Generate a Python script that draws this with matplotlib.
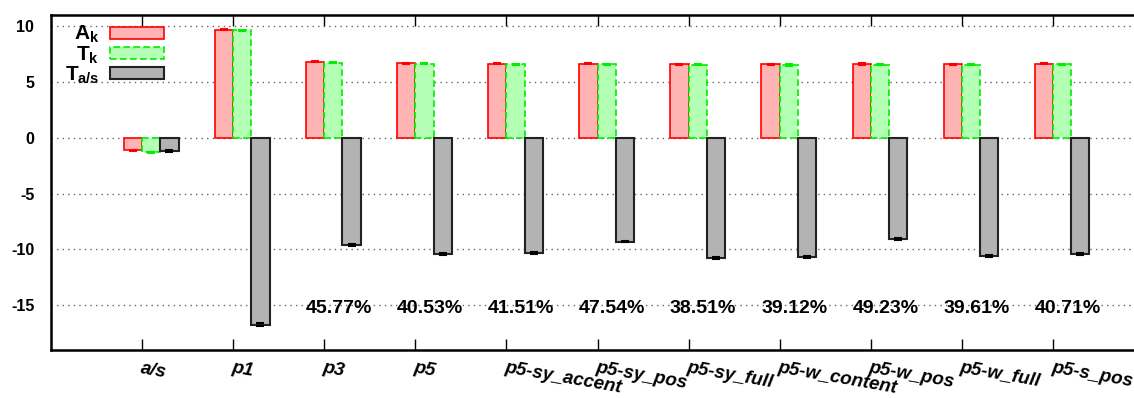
import matplotlib
matplotlib.use('Agg')
import matplotlib.pyplot as plt
import numpy as np

# values
labels = ['a/s', 'p1', 'p3', 'p5', 'p5-sy_accent', 'p5-sy_pos', 'p5-sy_full',
          'p5-w_content', 'p5-w_pos', 'p5-w_full', 'p5-s_pos']
a_k = [-1.15, 9.67, 6.80, 6.67, 6.62, 6.62, 6.58, 6.56, 6.60, 6.58, 6.60]
t_k = [-1.30, 9.60, 6.70, 6.60, 6.56, 6.56, 6.52, 6.50, 6.54, 6.52, 6.56]
t_as = [-1.20, -16.72, -9.60, -10.44, -10.30, -9.30, -10.80, -10.68, -9.07, -10.58, -10.40]
a_err = [0.05, 0.06, 0.05, 0.05, 0.05, 0.05, 0.05, 0.05, 0.06, 0.05, 0.05]
t_err = [0.05, 0.05, 0.05, 0.05, 0.05, 0.05, 0.05, 0.05, 0.06, 0.05, 0.05]
as_err = [0.05, 0.10, 0.08, 0.08, 0.08, 0.07, 0.08, 0.08, 0.07, 0.08, 0.08]
pct_start = 2
pct = ['45.77%', '40.53%', '41.51%', '47.54%', '38.51%', '39.12%', '49.23%',
       '39.61%', '40.71%']

plt.rcParams['font.family'] = 'Liberation Sans'
plt.rcParams['font.weight'] = 'bold'
plt.rcParams['axes.unicode_minus'] = False
plt.rcParams['mathtext.fontset'] = 'custom'
plt.rcParams['mathtext.rm'] = 'Liberation Sans:bold'
plt.rcParams['mathtext.it'] = 'Liberation Sans:bold'
plt.rcParams['mathtext.bf'] = 'Liberation Sans:bold'

fig = plt.figure(figsize=(11.34, 3.98), dpi=100)
ax = fig.add_axes([51 / 1134, 48 / 398, 1093 / 1134, 335.3 / 398])

x = np.arange(len(labels))
w = 0.2
ax.bar(x - 0.1, a_k, w, yerr=a_err, color='#ffb3b3', edgecolor='red', lw=1.2,
       label=r'$A_k$', zorder=3,
       error_kw=dict(ecolor='red', capsize=3, elinewidth=1, capthick=1.5, zorder=4))
ax.bar(x + 0.1, t_k, w, yerr=t_err, color='#b3ffb3', edgecolor='#00ee00', lw=1.2,
       linestyle=(0, (4, 2)), label=r'$T_k$', zorder=3,
       error_kw=dict(ecolor='#00ee00', capsize=3, elinewidth=1, capthick=1.5, zorder=4))
ax.bar(x + 0.3, t_as, w, yerr=as_err, color='#b3b3b3', edgecolor='#222222', lw=1.5,
       label=r'$T_{a/s}$', zorder=3,
       error_kw=dict(ecolor='black', capsize=3, elinewidth=1, capthick=1.5, zorder=4))

for i, s in enumerate(pct):
    ax.text(x[pct_start + i] + 0.16, -15.3, s, ha='center', va='center',
            fontsize=14, fontweight='bold')

ax.set_xlim(-1, 11)
ax.set_ylim(-19, 11)
ax.set_yticks(range(-15, 11, 5))
ax.set_yticklabels([str(v) for v in range(-15, 11, 5)], fontsize=11.5, fontweight='bold')
ax.set_axisbelow(True)
ax.yaxis.grid(True, linestyle=(0, (1, 3)), color='#666666', lw=1)
ax.tick_params(axis='y', length=0, pad=12)
ax.tick_params(axis='x', direction='in', length=8, width=1, top=True, pad=7)
ax.set_xticks(x)
ax.set_xticklabels(labels, rotation=-10, ha='left', va='top', rotation_mode='anchor',
                   fontsize=13.5, style='italic', fontweight='bold')
for sp in ax.spines.values():
    sp.set_linewidth(1.8)

ax.legend(loc='upper left', bbox_to_anchor=(0.003, 1.003), frameon=False,
          markerfirst=False, handlelength=2.6, handleheight=0.5, fontsize=15,
          labelspacing=-0.05, borderpad=0, handletextpad=0.5)

fig.savefig('out.png', dpi=100)
